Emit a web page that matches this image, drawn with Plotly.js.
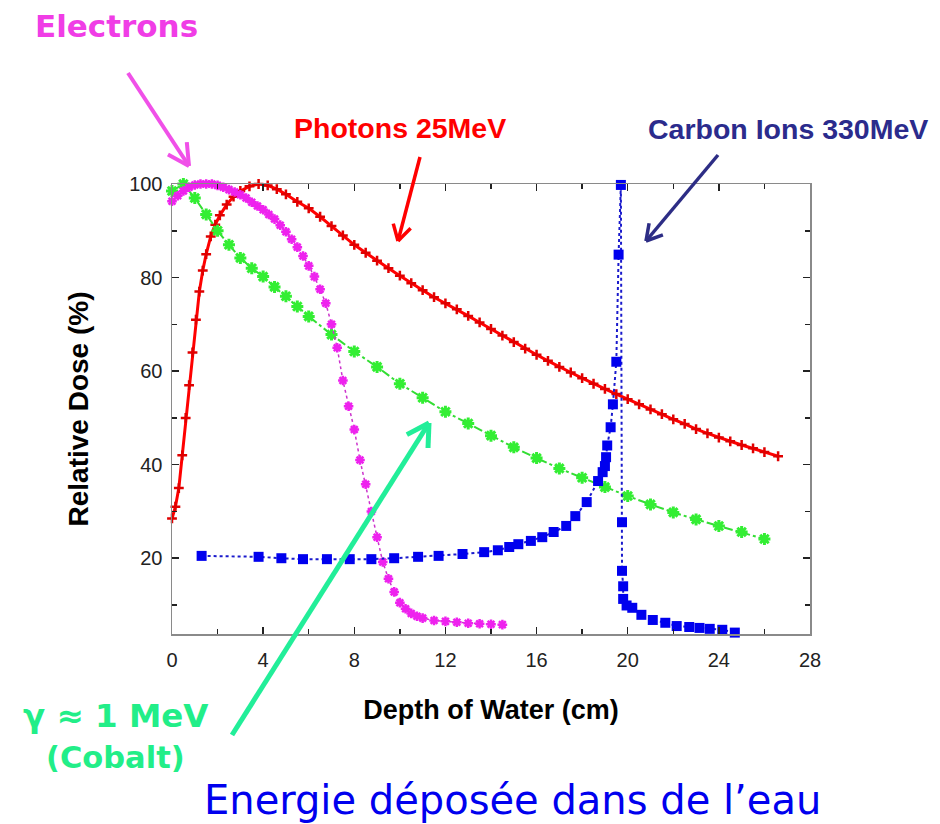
<!DOCTYPE html>
<html>
<head>
<meta charset="utf-8">
<script src="https://cdn.plot.ly/plotly-3.0.1.min.js"></script>
<style>html,body{margin:0;padding:0;background:#fff;}#chart{width:940px;height:824px;}</style>
</head>
<body>
<div id="chart"></div>
<script>
// ---- Data ----
const photonDepth = [0,0.15,0.3,0.45,0.6,0.75,0.9,1.05,1.2,1.35,1.5,1.7,1.9,2.1,2.4,2.7,3.0,3.4,3.8,4.2,4.6,5.0,5.5,6.0,6.5,7.0,7.5,8.0,8.5,9,9.5,10,10.5,11,11.5,12,12.5,13,13.5,14,14.5,15,15.5,16,16.5,17,17.5,18,18.5,19,19.5,20,20.5,21,21.5,22,22.5,23,23.5,24,24.5,25,25.5,26,26.6];
const photonDose  = [28.5,31,35,42,50,57,64,71,77,81.5,85,88.8,91.3,93.3,95.6,97.3,98.5,99.5,100,99.7,98.9,97.8,96.2,94.8,93,91,89,87,85.3,83.6,82,80.4,78.8,77.3,75.8,74.5,73.2,71.8,70.4,69,67.6,66.2,64.8,63.5,62.2,60.9,59.7,58.5,57.3,56.2,55.1,54,52.9,51.8,50.8,49.7,48.7,47.6,46.7,45.8,45,44.2,43.5,42.7,41.8];

const cobaltDepth = [0,0.5,1,1.5,2,2.5,3,3.5,4,4.5,5,5.5,6,7,8,9,10,11,12,13,14,15,16,17,18,19,20,21,22,23,24,25,26];
const cobaltDose  = [98.5,100,97,93.5,90,87,84.2,82,80.2,78,76,73.8,71.7,67.8,64.2,60.9,57.3,54.3,51.3,48.8,46.2,43.7,41.4,39.2,37.2,35.2,33.3,31.5,29.8,28.3,26.9,25.6,24.1];

const electronDepth = [0,0.25,0.5,0.75,1.0,1.25,1.5,1.75,2.0,2.25,2.5,2.75,3.0,3.25,3.5,3.75,4.0,4.25,4.5,4.75,5.0,5.25,5.5,5.75,6.0,6.25,6.5,6.75,7.0,7.25,7.5,7.75,8.0,8.25,8.5,8.75,9.0,9.25,9.5,9.75,10.0,10.25,10.5,10.75,11.0,11.5,12,12.5,13,13.5,14,14.5];
const electronDose  = [96.3,97.5,98.5,99.3,99.8,100,100,100,99.7,99.3,98.8,98.3,97.7,97,96.1,95.3,94.5,93.5,92.5,91.2,89.8,88.2,86.5,84.6,82.5,80.2,77.5,74.5,70,65,58,52.5,47.5,41,35.8,30,24.5,19.2,15.6,12.8,10.5,9.2,8.2,7.6,7.2,6.7,6.5,6.3,6.1,6.0,5.9,5.8];

const carbonDepth = [1.3,3.8,4.8,5.75,6.8,7.8,8.75,9.75,10.8,11.7,12.75,13.7,14.3,14.8,15.2,15.75,16.25,16.75,17.3,17.7,18.2,18.7,18.9,19.0,19.05,19.1,19.25,19.35,19.5,19.6,19.7,19.75,19.75,19.8,19.8,19.95,20.2,20.6,21.1,21.65,22.15,22.7,23.15,23.6,24.15,24.7];
const carbonDose  = [20.5,20.3,20,19.8,19.8,19.8,19.8,20,20.3,20.5,20.9,21.3,21.7,22.4,23,23.7,24.5,25.6,26.9,29,32,36.5,38.4,39.7,41.6,44.1,48,52.9,62,84.9,99.8,27.7,17.3,14,11.3,9.9,9.4,7.9,6.8,6.2,5.5,5.3,5.1,4.9,4.7,4.1];

const xTickVals = [0,4,8,12,16,20,24,28];
const yTickVals = [20,40,60,80,100];

// ---- Geometry helpers (plot frame in page pixels) ----
const L = 172, R = 810, T = 184, B = 634;
const px = x => (x - L) / (R - L);
const py = y => (B - y) / (B - T);

function arrow(x0, y0, x1, y1, color, w, hl, angDeg) {
  const dx = x1 - x0, dy = y1 - y0, len = Math.hypot(dx, dy);
  const ux = dx / len, uy = dy / len, a = angDeg * Math.PI / 180;
  const shapes = [];
  const ln = (ax, ay, bx, by) => ({type:'line', xref:'paper', yref:'paper',
    x0:px(ax), y0:py(ay), x1:px(bx), y1:py(by), line:{color:color, width:w}});
  shapes.push(ln(x0, y0, x1, y1));
  for (const s of [1, -1]) {
    const rx = ux * Math.cos(s*a) - uy * Math.sin(s*a);
    const ry = ux * Math.sin(s*a) + uy * Math.cos(s*a);
    shapes.push(ln(x1, y1, x1 - hl * rx, y1 - hl * ry));
  }
  return shapes;
}

const comic = "Comic Sans MS, DejaVu Sans, sans-serif";
const arial = "Liberation Sans, Arial, sans-serif";

function label(text, cx, cy, color, size, family, weight) {
  return {text:text, xref:'paper', yref:'paper', x:px(cx), y:py(cy),
    xanchor:'center', yanchor:'middle', showarrow:false,
    font:{family:family, size:size, color:color, weight:weight}};
}

const traces = [
  {x: photonDepth, y: photonDose, type:'scatter', mode:'lines+markers', name:'Photons 25MeV',
   line:{color:'#ff0000', width:3},
   marker:{symbol:'cross-thin-open', size:7, color:'#e00000', line:{color:'#d40000', width:2.5}},
   cliponaxis:false},
  {x: cobaltDepth, y: cobaltDose, type:'scatter', mode:'lines+markers', name:'Cobalt',
   line:{color:'#33dd33', width:2, dash:'dashdot'},
   marker:{symbol:'asterisk-open', size:10, color:'#33ee33', line:{color:'#33ee33', width:3}},
   cliponaxis:false},
  {x: electronDepth, y: electronDose, type:'scatter', mode:'lines+markers', name:'Electrons',
   line:{color:'#cc33cc', width:1.5, dash:'dot'},
   marker:{symbol:'asterisk-open', size:8, color:'#ee22ee', line:{color:'#ee22ee', width:2.5}},
   cliponaxis:false},
  {x: carbonDepth, y: carbonDose, type:'scatter', mode:'lines+markers', name:'Carbon Ions 330MeV',
   line:{color:'#1a1acc', width:2, dash:'dot'},
   marker:{symbol:'square', size:10, color:'#0000ee'},
   cliponaxis:false}
];

const shapes = [].concat(
  arrow(128, 73, 189, 166, '#f050e8', 4, 24, 28),
  arrow(420, 157, 398, 241, '#ff0000', 3.5, 18, 30),
  arrow(718, 155, 646, 241, '#2d2d85', 3.5, 18, 30),
  arrow(232, 735, 429, 423, '#22ee99', 5, 25, 30)
);

const layout = {
  width: 940, height: 824,
  margin: {l: L, r: 940 - R, t: T, b: 824 - B},
  paper_bgcolor: '#ffffff', plot_bgcolor: '#ffffff',
  showlegend: false,
  xaxis: {
    range: [0, 28], tickvals: xTickVals, ticktext: xTickVals.map(String),
    ticks: 'inside', ticklen: 7, tickwidth: 1.5, tickcolor: '#222',
    minor: {dtick: 2, tick0: 0, ticks: 'inside', ticklen: 5, tickcolor: '#222'},
    showline: true, linecolor: '#8a8a8a', linewidth: 1.5, mirror: 'allticks',
    showgrid: false, zeroline: false, ticklabelstandoff: 7,
    tickfont: {family: arial, size: 20, color: '#222'},
    title: {text: 'Depth of Water (cm)', standoff: 30,
      font: {family: arial, size: 27, color: '#000', weight: 'bold'}}
  },
  yaxis: {
    range: [3.8, 100], tickvals: yTickVals, ticktext: yTickVals.map(String),
    ticks: 'inside', ticklen: 7, tickwidth: 1.5, tickcolor: '#222',
    minor: {dtick: 10, tick0: 0, ticks: 'inside', ticklen: 5, tickcolor: '#222'},
    showline: true, linecolor: '#8a8a8a', linewidth: 1.5, mirror: 'allticks',
    showgrid: false, zeroline: false, ticklabelstandoff: 4,
    tickfont: {family: arial, size: 20, color: '#222'},
    title: {text: 'Relative Dose (%)', standoff: 32,
      font: {family: arial, size: 28, color: '#000', weight: 'bold'}}
  },
  shapes: shapes,
  annotations: [
    label('Electrons', 116, 26, '#f03de6', 31, comic, 'bold'),
    label('Photons 25MeV', 400, 128, '#ff0000', 28.5, arial, 'bold'),
    label('Carbon Ions 330MeV', 788, 129, '#2b2b8c', 28.5, arial, 'bold'),
    label('γ ≈ 1 MeV', 115, 716, '#22ee88', 32.5, comic, 'bold'),
    label('(Cobalt)', 115, 757, '#22ee88', 30.5, comic, 'bold'),
    label('Energie déposée dans de l’eau', 512, 800, '#0000ee', 40, comic, 'normal')
  ]
};

Plotly.newPlot('chart', traces, layout, {displayModeBar: false, staticPlot: true});
</script>
</body>
</html>
